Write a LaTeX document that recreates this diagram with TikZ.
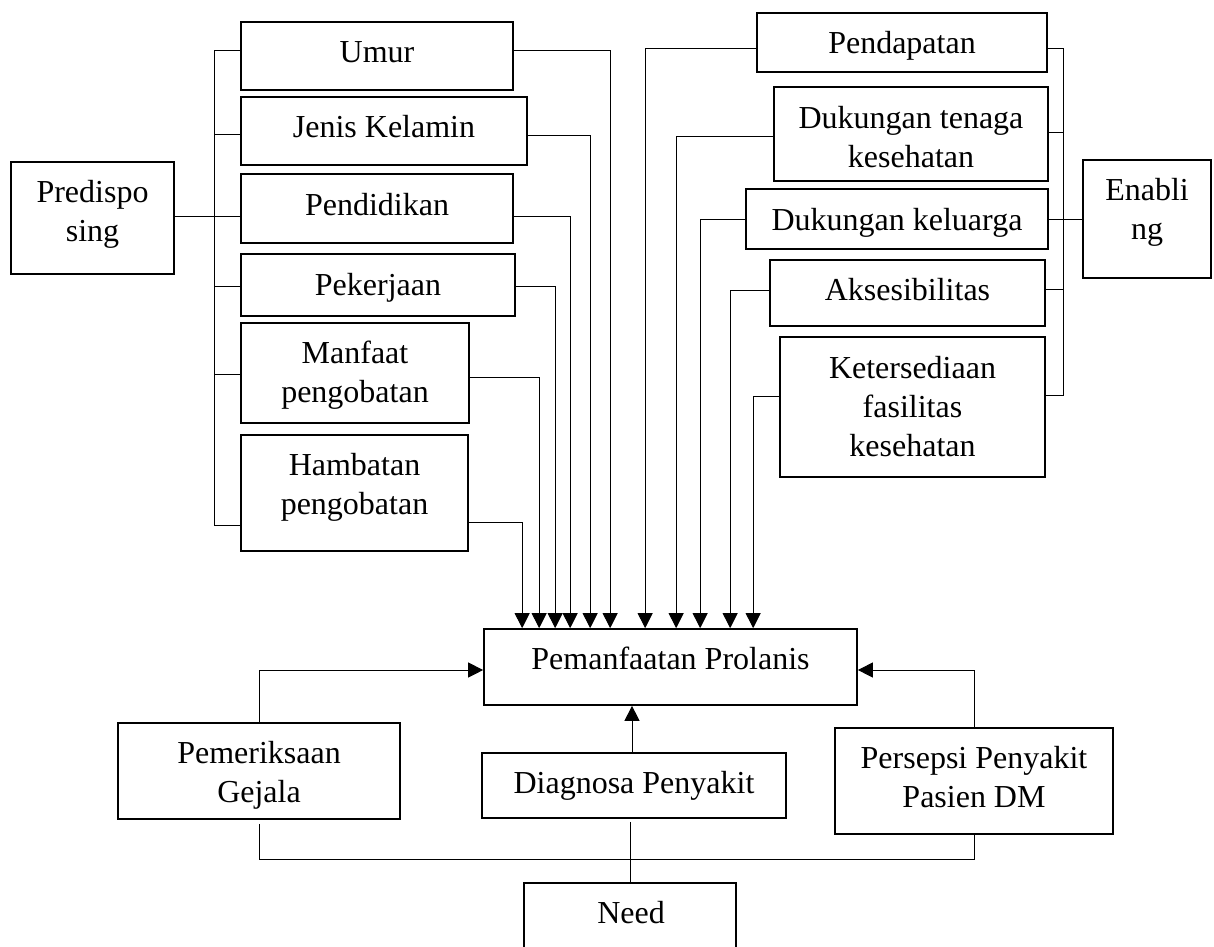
\documentclass[tikz,border=0pt]{standalone}
\usepackage{fontspec}
\setmainfont{Liberation Serif}
\usetikzlibrary{arrows.meta,calc}
\tikzset{
  box/.style={draw, line width=1.7pt, inner sep=0pt, rectangle},
  lbl/.style={inner sep=0pt, align=center, font=\fontsize{32}{39}\selectfont},
  ln/.style={line width=1pt},
  arr/.style={line width=1pt, -{Triangle[length=15pt,width=15pt]}}
}
\begin{document}
\begin{tikzpicture}[x=1pt,y=-1pt]
\useasboundingbox (0,0) rectangle (1214,946);
\clip (0,0) rectangle (1214,946);
% ---------- boxes ----------
\node[box, minimum width=163, minimum height=112] (pred)  at (92.5,218) {};
\node[box, minimum width=272, minimum height=68]  (umur)  at (377,56) {};
\node[box, minimum width=286, minimum height=68]  (jenis) at (384,131) {};
\node[box, minimum width=272, minimum height=69]  (pend)  at (377,208.5) {};
\node[box, minimum width=274, minimum height=62]  (peker) at (378,285) {};
\node[box, minimum width=228, minimum height=100] (manf)  at (355,373) {};
\node[box, minimum width=227, minimum height=116] (hamb)  at (354.5,493) {};
\node[box, minimum width=290, minimum height=59]  (pdpt)  at (902,42.5) {};
\node[box, minimum width=274, minimum height=94]  (dtk)   at (911,134) {};
\node[box, minimum width=302, minimum height=60]  (dkel)  at (897,219) {};
\node[box, minimum width=275, minimum height=66]  (aks)   at (907.5,293) {};
\node[box, minimum width=265, minimum height=140] (ket)   at (912.5,407) {};
\node[box, minimum width=128, minimum height=118] (enab)  at (1147,219) {};
\node[box, minimum width=373, minimum height=76]  (pp)    at (670.5,667) {};
\node[box, minimum width=282, minimum height=96]  (pem)   at (259,771) {};
\node[box, minimum width=304, minimum height=65]  (diag)  at (634,785.5) {};
\node[box, minimum width=278, minimum height=106] (pers)  at (974,781) {};
\node[box, minimum width=212, minimum height=67]  (need)  at (630,916.5) {};
% ---------- texts ----------
\node[lbl] (predt)  at (92.5,214.2)  {\strut Predispo\\\strut sing};
\node[lbl] (umurt)  at (377,54.2)    {\strut Umur};
\node[lbl] (jenist) at (384,129.2)   {\strut Jenis Kelamin};
\node[lbl] (pendt)  at (377,207.2)   {\strut Pendidikan};
\node[lbl] (pekert) at (378,287.2)   {\strut Pekerjaan};
\node[lbl] (manft)  at (355,374.7)   {\strut Manfaat\\\strut pengobatan};
\node[lbl] (hambt)  at (354.5,486.7) {\strut Hambatan\\\strut pengobatan};
\node[lbl] (pdptt)  at (902,45.2)    {\strut Pendapatan};
\node[lbl] (dtkt)   at (911,139.7)   {\strut Dukungan tenaga\\\strut kesehatan};
\node[lbl] (dkelt)  at (897,222.2)   {\strut Dukungan keluarga};
\node[lbl] (akst)   at (907.5,292.2) {\strut Aksesibilitas};
\node[lbl] (kett)   at (912.5,409.2) {\strut Ketersediaan\\\strut fasilitas\\\strut kesehatan};
\node[lbl] (enabt)  at (1147,212.2)  {\strut Enabli\\\strut ng};
\node[lbl] (ppt)    at (670.5,661.2) {\strut Pemanfaatan Prolanis};
\node[lbl] (pemt)   at (259,774.7)   {\strut Pemeriksaan\\\strut Gejala};
\node[lbl] (diagt)  at (634,785.2)   {\strut Diagnosa Penyakit};
\node[lbl] (perst)  at (974,780.2)   {\strut Persepsi Penyakit\\\strut Pasien DM};
\node[lbl] (needt)  at (631,915.2)   {\strut Need};
% ---------- left bracket ----------
\draw[ln] ($(umur.west)+(0,-6)$) -| ($(hamb.west)+(-26,32)$) -- ($(hamb.west)+(0,32)$);
\draw[ln] ($(jenis.west)+(0,3)$) -- ++(-26,0);
\draw[ln] ($(pred.east)+(0,-2)$) -- ($(pend.west)+(0,7.5)$);
\draw[ln] ($(peker.west)+(0,1)$) -- ++(-26,0);
\draw[ln] ($(manf.west)+(0,1)$) -- ++(-26,0);
% ---------- left arrows ----------
\draw[arr] ($(umur.east)+(0,-6)$)  -| ($(pp.north west)+(127,0)$);
\draw[arr] ($(jenis.east)+(0,4)$)  -| ($(pp.north west)+(107,0)$);
\draw[arr] ($(pend.east)+(0,7.5)$) -| ($(pp.north west)+(87,0)$);
\draw[arr] ($(peker.east)+(0,1)$)  -| ($(pp.north west)+(72,0)$);
\draw[arr] ($(manf.east)+(0,4)$)   -| ($(pp.north west)+(56,0)$);
\draw[arr] ($(hamb.east)+(0,29)$)  -| ($(pp.north west)+(39,0)$);
% ---------- right arrows ----------
\draw[arr] ($(pdpt.west)+(0,5.5)$) -| ($(pp.north west)+(162,0)$);
\draw[arr] ($(dtk.west)+(0,2)$)    -| ($(pp.north west)+(193,0)$);
\draw[arr] (dkel.west)             -| ($(pp.north west)+(217,0)$);
\draw[arr] ($(aks.west)+(0,-3)$)   -| ($(pp.north west)+(247,0)$);
\draw[arr] ($(ket.west)+(0,-11)$)  -| ($(pp.north west)+(270,0)$);
% ---------- right bracket ----------
\draw[ln] ($(pdpt.east)+(0,5.5)$) -| ($(ket.east)+(18,-12)$) -- ($(ket.east)+(0,-12)$);
\draw[ln] ($(dtk.east)+(0,-2)$) -- ++(15,0);
\draw[ln] (dkel.east) -- (enab.west);
\draw[ln] ($(aks.east)+(0,-4)$) -- ++(18,0);
% ---------- bottom ----------
\draw[arr] (pem.north) |- ($(pp.west)+(0,3)$);
\draw[arr] (pers.north) |- ($(pp.east)+(0,3)$);
\draw[arr] ($(diag.north)+(-2,0)$) -- ($(pp.south)+(-38.5,0)$);
\draw[ln] ($(pem.south)+(0,4)$) |- ($(pers.south)+(0,25)$) -- (pers.south);
\draw[ln] ($(diag.south)+(-4,3)$) -- ($(need.north)+(0,0)$);
\end{tikzpicture}
\end{document}
